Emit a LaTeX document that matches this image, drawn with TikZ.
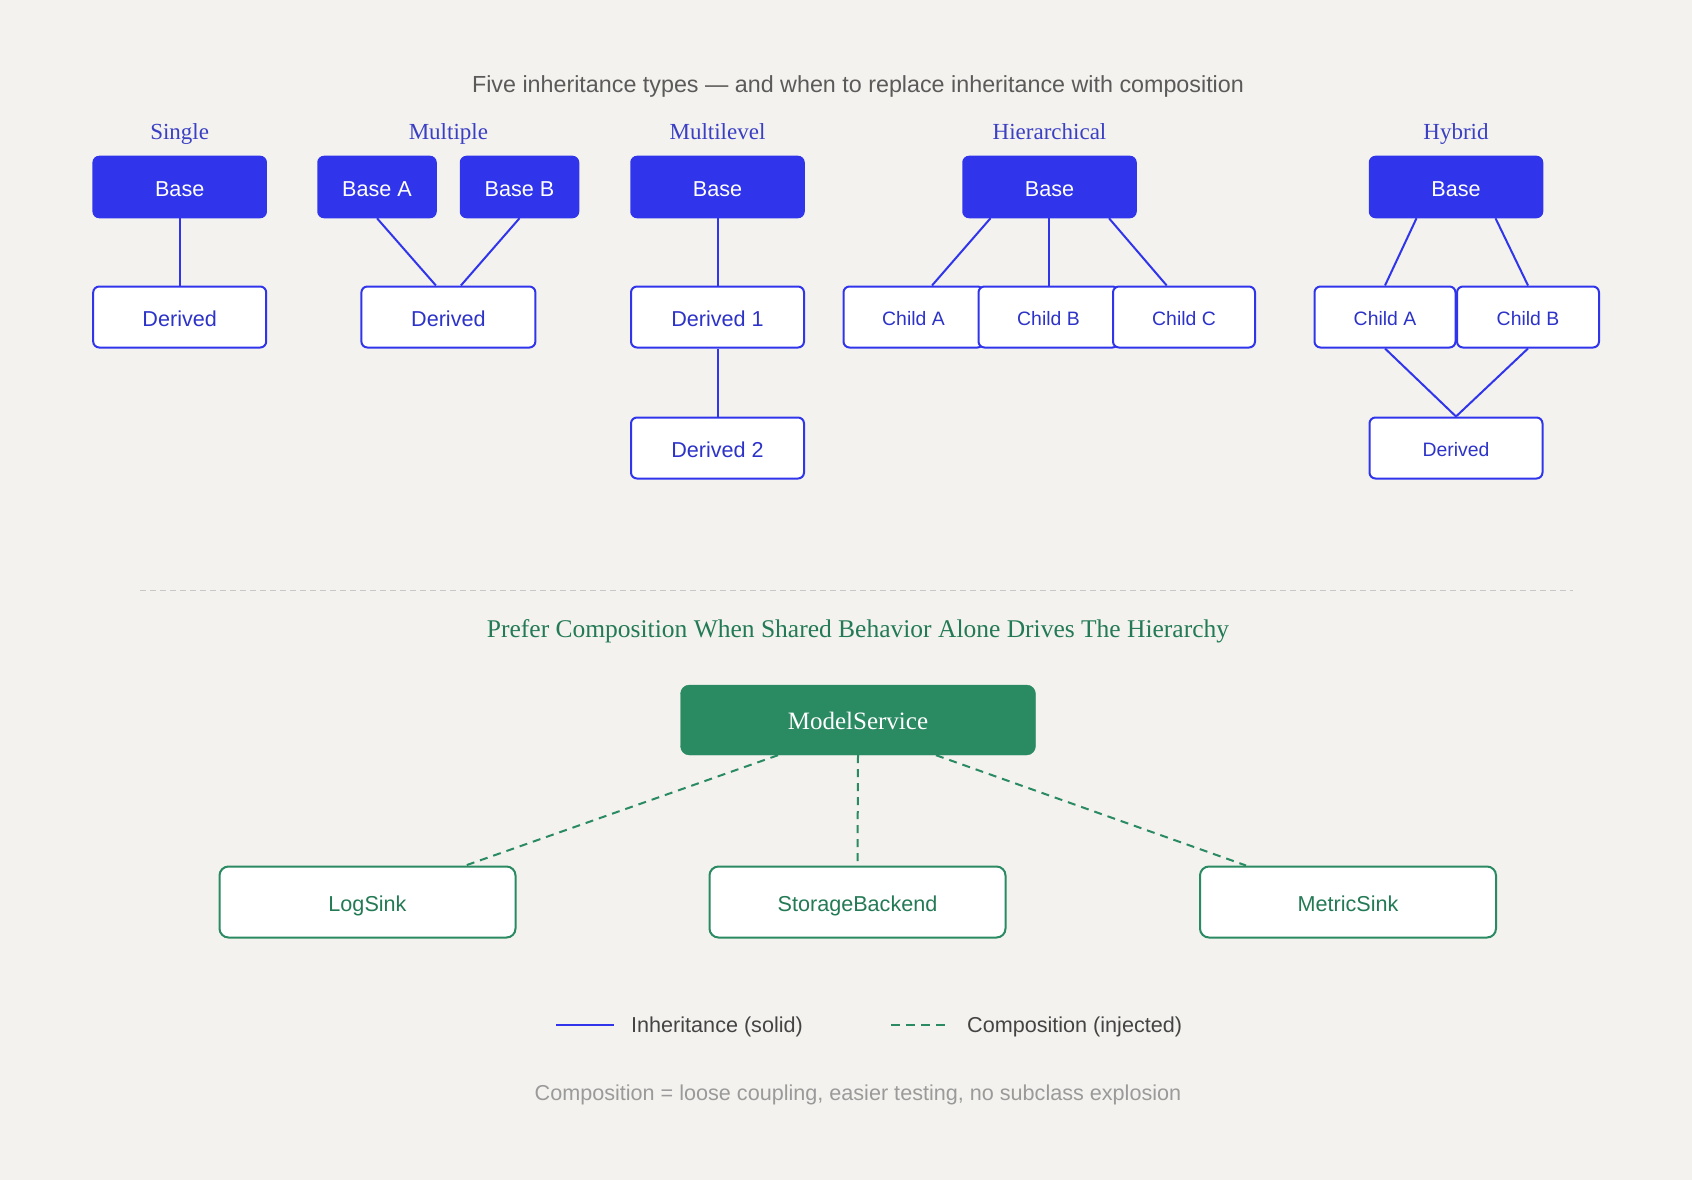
\documentclass[tikz,border=0pt]{standalone}
\usepackage{fontspec}
\setmainfont{Liberation Serif}
\setsansfont{Liberation Sans}
\usetikzlibrary{calc}
\definecolor{bg}{HTML}{F3F2EE}
\definecolor{blu}{HTML}{3035EC}
\definecolor{blutext}{HTML}{2D33C8}
\definecolor{blulab}{HTML}{3A3FC4}
\definecolor{grn}{HTML}{2A8A62}
\definecolor{grntext}{HTML}{237A55}
\definecolor{titlegray}{HTML}{5A5A5A}
\definecolor{leggray}{HTML}{444444}
\definecolor{footgray}{HTML}{9A9A9A}
\definecolor{sepgray}{HTML}{C8C8C8}
\newcommand{\sansbody}{\sffamily\fontsize{21.6}{26}\selectfont}
\newcommand{\sanssmall}{\sffamily\fontsize{19.4}{23}\selectfont}
\newcommand{\seriflab}{\rmfamily\fontsize{23}{28}\selectfont}
\tikzset{
  basebox/.style={rectangle, rounded corners=6pt, fill=blu, draw=blu, line width=1.5pt,
    text=white, minimum height=61pt, minimum width=173pt, inner sep=0pt, font=\sansbody,
    text height=18.5pt, text depth=0pt},
  openbox/.style={rectangle, rounded corners=6pt, fill=white, draw=blu, line width=2pt,
    text=blutext, minimum height=61pt, minimum width=173pt, inner sep=0pt, font=\sansbody,
    text height=18.5pt, text depth=0pt},
  smallbox/.style={openbox, font=\sanssmall, text height=16.5pt},
  grpl/.style={text=blulab, font=\seriflab, inner sep=0pt, text height=17pt, text depth=5pt},
  inh/.style={draw=blu, line width=2pt},
  comp/.style={draw=grn, line width=2pt, dash pattern=on 8pt off 6pt},
  compbox/.style={rectangle, rounded corners=9pt, fill=white, draw=grn, line width=2pt,
    text=grntext, minimum height=71pt, minimum width=296pt, inner sep=0pt, font=\sansbody,
    text height=18.5pt, text depth=0pt},
}
\begin{document}
\begin{tikzpicture}[x=1pt,y=-1pt]
\fill[bg] (0,0) rectangle (1692,1180);
\useasboundingbox (0,0) rectangle (1692,1180);

% title
\node[text=titlegray, font=\sffamily\fontsize{23.3}{28}\selectfont, inner sep=0pt] (title) at (858,86)
  {Five inheritance types — and when to replace inheritance with composition};

% group labels
\node[grpl] (lsingle) at (179.7,134) {Single};
\node[grpl] (lmult) at (448.4,134) {Multiple};
\node[grpl] (lmlev) at (717.5,134) {Multilevel};
\node[grpl] (lhier) at (1049.5,134) {Hierarchical};
\node[grpl] (lhyb) at (1456,134) {Hybrid};

% Single
\node[basebox] (sb) at (179.7,187) {Base};
\node[openbox] (sd) at (179.7,317) {Derived};
% Multiple
\node[basebox, minimum width=118pt] (ma) at (377,187) {Base A};
\node[basebox, minimum width=118pt] (mb) at (519.5,187) {Base B};
\node[openbox, minimum width=174pt] (md) at (448.4,317) {Derived};
% Multilevel
\node[basebox] (lb) at (717.5,187) {Base};
\node[openbox] (l1) at (717.5,317) {Derived 1};
\node[openbox] (l2) at (717.5,448) {Derived 2};
% Hierarchical
\node[basebox] (hb) at (1049.5,187) {Base};
\node[smallbox, minimum width=140pt] (ca) at (913.5,317) {Child A};
\node[smallbox, minimum width=140pt] (cb) at (1048.5,317) {Child B};
\node[smallbox, minimum width=142pt] (cc) at (1184,317) {Child C};
% Hybrid
\node[basebox] (yb) at (1456,187) {Base};
\node[smallbox, minimum width=141pt] (ya) at (1385,317) {Child A};
\node[smallbox, minimum width=142pt] (yc) at (1528,317) {Child B};
\node[smallbox, minimum width=173pt] (yd) at (1456,448) {Derived};

% inheritance connectors
\draw[inh] (sb.south) -- (sd.north);
\draw[inh] (ma.south) -- ($(md.north)+(-12.5,0)$);
\draw[inh] (mb.south) -- ($(md.north)+(12.5,0)$);
\draw[inh] (lb.south) -- (l1.north);
\draw[inh] (l1.south) -- (l2.north);
\draw[inh] ($(hb.south)+(-59,0)$) -- ($(ca.north)+(18.5,0)$);
\draw[inh] ($(hb.south)+(-0.5,0)$) -- ($(cb.north)+(0.5,0)$);
\draw[inh] ($(hb.south)+(59.5,0)$) -- ($(cc.north)+(-17.3,0)$);
\draw[inh] ($(yb.south)+(-39.5,0)$) -- (ya.north);
\draw[inh] ($(yb.south)+(39.5,0)$) -- (yc.north);
\draw[inh] (ya.south) -- (yd.north);
\draw[inh] (yc.south) -- (yd.north);

% separator
\coordinate (sepl) at (140,590);
\coordinate (sepr) at (1573,590);
\draw[sepgray, line width=1pt, dash pattern=on 6pt off 4pt] (sepl) -- (sepr);

% composition
\node[text=grntext, font=\rmfamily\fontsize{25.5}{30}\selectfont, inner sep=0pt] (ctitle) at (858,631)
  {Prefer Composition When Shared Behavior Alone Drives The Hierarchy};
\node[rectangle, rounded corners=9pt, fill=grn, draw=grn, text=white, minimum width=355pt,
  minimum height=70pt, inner sep=0pt, font=\rmfamily\fontsize{25}{30}\selectfont,
  text height=18pt, text depth=0pt] (ms) at (858,720) {ModelService};
\node[compbox] (log) at (367.5,902) {LogSink};
\node[compbox] (sto) at (857.5,902) {StorageBackend};
\node[compbox] (met) at (1348,902) {MetricSink};
\draw[comp] ($(ms.south)+(-80,0)$) -- ($(log.north)+(98,0)$);
\draw[comp] (ms.south) -- (sto.north);
\draw[comp] ($(ms.south)+(78,0)$) -- ($(met.north)+(-102,0)$);

% legend
\coordinate (lga) at (556,1025);
\coordinate (lgb) at (614,1025);
\draw[inh, line width=2.5pt] (lga) -- (lgb);
\node[anchor=west, text=leggray, font=\sansbody, inner sep=0pt] (lgt1) at (631,1027) {Inheritance (solid)};
\coordinate (lgc) at (891,1025);
\coordinate (lgd) at (949,1025);
\draw[draw=grn, line width=2.5pt, dash pattern=on 9pt off 6pt] (lgc) -- (lgd);
\node[anchor=west, text=leggray, font=\sansbody, inner sep=0pt] (lgt2) at (967,1027) {Composition (injected)};

% footer
\node[text=footgray, font=\sansbody, inner sep=0pt] (foot) at (858,1095)
  {Composition = loose coupling, easier testing, no subclass explosion};
\end{tikzpicture}
\end{document}
